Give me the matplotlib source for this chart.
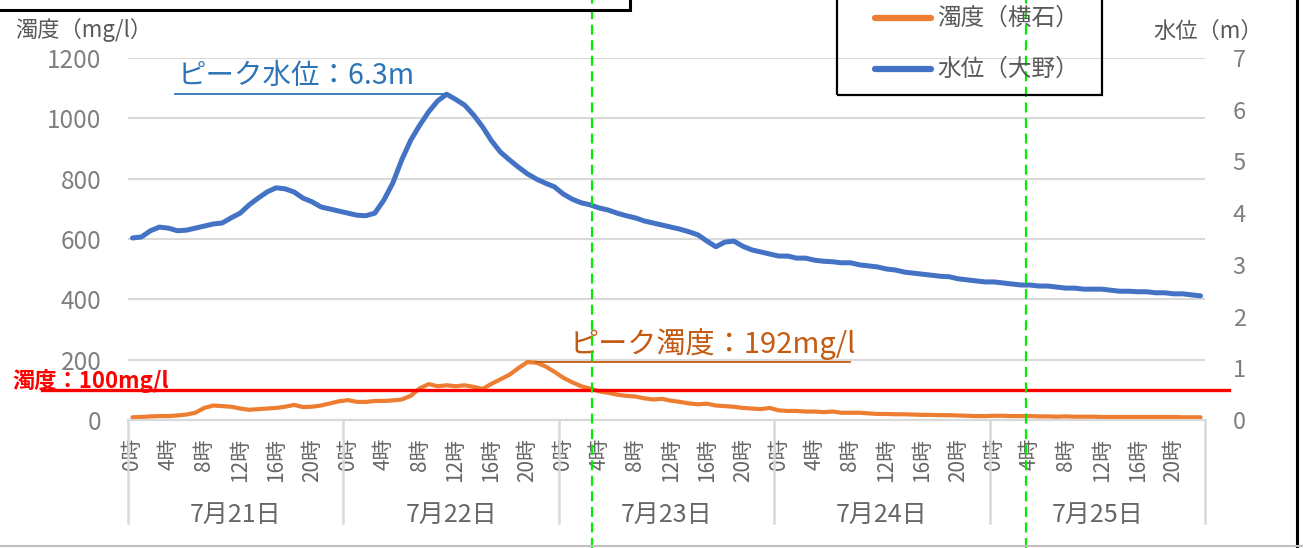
import numpy as np
import matplotlib
matplotlib.use('Agg')
import matplotlib.pyplot as plt
import matplotlib.transforms as mtransforms
from matplotlib.lines import Line2D
from matplotlib.patches import Rectangle

plt.rcParams['font.family'] = ['Noto Sans CJK JP', 'DejaVu Sans']

# data (hourly, 7/21 0時 - 7/25 23時)
days = ['7月21日', '7月22日', '7月23日', '7月24日', '7月25日']
hour_labels = ['0時', '4時', '8時', '12時', '16時', '20時']

level = [  # 水位（大野） m
    3.52, 3.54, 3.66, 3.73, 3.71, 3.66, 3.67, 3.71, 3.75, 3.79, 3.81, 3.91,
    4.00, 4.16, 4.29, 4.41, 4.49, 4.47, 4.41, 4.29, 4.22, 4.12, 4.08, 4.04,
    4.00, 3.96, 3.95, 4.00, 4.25, 4.58, 5.03, 5.41, 5.70, 5.96, 6.17, 6.30,
    6.20, 6.09, 5.90, 5.67, 5.40, 5.18, 5.03, 4.89, 4.76, 4.66, 4.58, 4.51,
    4.37, 4.27, 4.20, 4.16, 4.10, 4.06, 4.00, 3.95, 3.91, 3.85, 3.81, 3.77,
    3.73, 3.69, 3.64, 3.58, 3.46, 3.35, 3.44, 3.46, 3.36, 3.29, 3.25, 3.21,
    3.17, 3.17, 3.13, 3.13, 3.09, 3.07, 3.06, 3.04, 3.04, 3.00, 2.98, 2.96,
    2.92, 2.90, 2.86, 2.84, 2.82, 2.80, 2.78, 2.77, 2.73, 2.71, 2.69, 2.67,
    2.67, 2.65, 2.63, 2.61, 2.61, 2.59, 2.59, 2.57, 2.55, 2.55, 2.53, 2.53,
    2.53, 2.51, 2.49, 2.49, 2.48, 2.48, 2.46, 2.46, 2.44, 2.44, 2.42, 2.40,
]
turbidity = [  # 濁度（横石） mg/l
    9, 10, 12, 13, 13, 15, 18, 24, 40, 48, 46, 44,
    38, 34, 36, 38, 40, 44, 50, 43, 44, 48, 55, 62,
    66, 60, 60, 63, 63, 65, 68, 80, 105, 119, 112, 115,
    112, 115, 110, 103, 120, 135, 150, 172, 192, 190, 178, 160,
    140, 125, 112, 104, 95, 90, 84, 80, 78, 72, 68, 70,
    64, 60, 55, 52, 54, 48, 46, 44, 40, 38, 36, 40,
    32, 30, 30, 28, 28, 26, 28, 24, 24, 24, 22, 20,
    20, 19, 19, 18, 17, 17, 16, 16, 15, 14, 13, 13,
    14, 14, 13, 13, 13, 12, 12, 11, 12, 11, 11, 11,
    10, 10, 10, 10, 10, 10, 10, 10, 10, 9, 9, 9,
]
limit = 100
peak_level = 6.3
peak_turb = 192
marks = [51.2, 99.6]  # green markers (hour index)

W, H = 1303, 548
fig = plt.figure(figsize=(W / 100, H / 100), dpi=100)


def fx(px):
    return px / W


def fy(py):
    return 1 - py / H


ax = fig.add_axes([fx(128), fy(420), (1205 - 128) / W, (420 - 58) / H])
ax2 = ax.twinx()
x = np.arange(len(level))

ax.plot(x, turbidity, color='#ED7D31', lw=3.0, solid_capstyle='round', zorder=3)
ax2.plot(x, level, color='#4472C4', lw=3.6, solid_capstyle='round', zorder=3)

ax.set_xlim(-0.5, len(level) - 0.5)
ax.set_ylim(0, 1200)
ax2.set_ylim(0, 7)
ax.set_yticks(range(0, 1201, 200))
ax2.set_yticks(range(0, 8))

ax.grid(axis='y', color='#d9d9d9', lw=1.5)
ax.set_axisbelow(True)
for a in (ax, ax2):
    for s in ('left', 'right', 'top'):
        a.spines[s].set_visible(False)
    a.spines['bottom'].set_color('#d9d9d9')
    a.spines['bottom'].set_linewidth(1.5)

ax.tick_params(axis='y', length=0, pad=19, labelsize=17.5, labelcolor='#7f7f7f')
ax2.tick_params(axis='y', length=0, pad=20, labelsize=17, labelcolor='#7f7f7f')

ax.set_xticks(x[::4])
ax.set_xticklabels(hour_labels * len(days), rotation=90)
ax.tick_params(axis='x', length=0, pad=13, labelsize=15, labelcolor='#666666')

blend = mtransforms.blended_transform_factory(ax.transData, ax.transAxes)
for d, name in enumerate(days):
    ax.text(d * 24 + 11.5, -(515 - 420) / 362, name, transform=blend,
            ha='center', va='center', fontsize=18, color='#666666')
for d in range(len(days) + 1):
    ax.plot([d * 24 - 0.5] * 2, [0, -(523 - 420) / 362], transform=blend,
            color='#d9d9d9', lw=1.8, clip_on=False)

# 100 mg/l line
ax2.plot([-10.1, 122.2], [limit, limit], transform=ax.transData,
         color='#FF0000', lw=2.4, clip_on=False, zorder=5)
fig.text(fx(12), fy(381), '濁度：100mg/l', color='#FF0000', fontsize=16,
         fontweight='bold', ha='left', va='center')

# peak annotations
ax2.plot([4.7, 35], [peak_level, peak_level], color='#2E75B6', lw=1.3, zorder=4)
ax2.text(5.0, peak_level + 0.06, 'ピーク水位：6.3m', color='#2E75B6',
         fontsize=20.5, ha='left', va='bottom')
ax.plot([45.0, 79.9], [peak_turb, peak_turb], color='#C55A11', lw=1.3, zorder=4,
        clip_on=False)
ax.text(48.7, peak_turb + 6, 'ピーク濁度：192mg/l', color='#C55A11',
        fontsize=21, ha='left', va='bottom')

# green markers
for m in marks:
    ax2.axvline(m, ymin=-(H - 420) / 362, ymax=1 + 58 / 362, color='#00ee00',
                lw=1.6, ls=(0, (4.5, 2.5)), clip_on=False, zorder=6)

# axis titles
fig.text(fx(15), fy(30), '濁度（mg/l）', fontsize=16, color='#595959',
         ha='left', va='center')
fig.text(fx(1153), fy(31), '水位（m）', fontsize=16, color='#595959',
         ha='left', va='center')

# legend box
fig.add_artist(Rectangle((fx(837), fy(95)), (1102 - 837) / W, 120 / H, fill=False,
                         ec='black', lw=1.6, transform=fig.transFigure))
for yy, col, lab in [(18, '#ED7D31', '濁度（横石）'), (69, '#4472C4', '水位（大野）')]:
    fig.add_artist(Line2D([fx(875), fx(931)], [fy(yy)] * 2, color=col, lw=4.5,
                          solid_capstyle='round', transform=fig.transFigure))
    fig.text(fx(937), fy(yy), lab, fontsize=17, color='#595959', ha='left', va='center')

# frame pieces around the picture
fig.add_artist(Rectangle((fx(-5), fy(10)), 635 / W, 40 / H, fill=False, ec='black',
                         lw=2.2, transform=fig.transFigure))
fig.add_artist(Line2D([fx(1297)] * 2, [0, 1], color='black', lw=2.2,
                      transform=fig.transFigure))
fig.add_artist(Line2D([0, 1], [fy(546)] * 2, color='#bfbfbf', lw=1.5,
                      transform=fig.transFigure))

fig.savefig('out.png', dpi=100)
